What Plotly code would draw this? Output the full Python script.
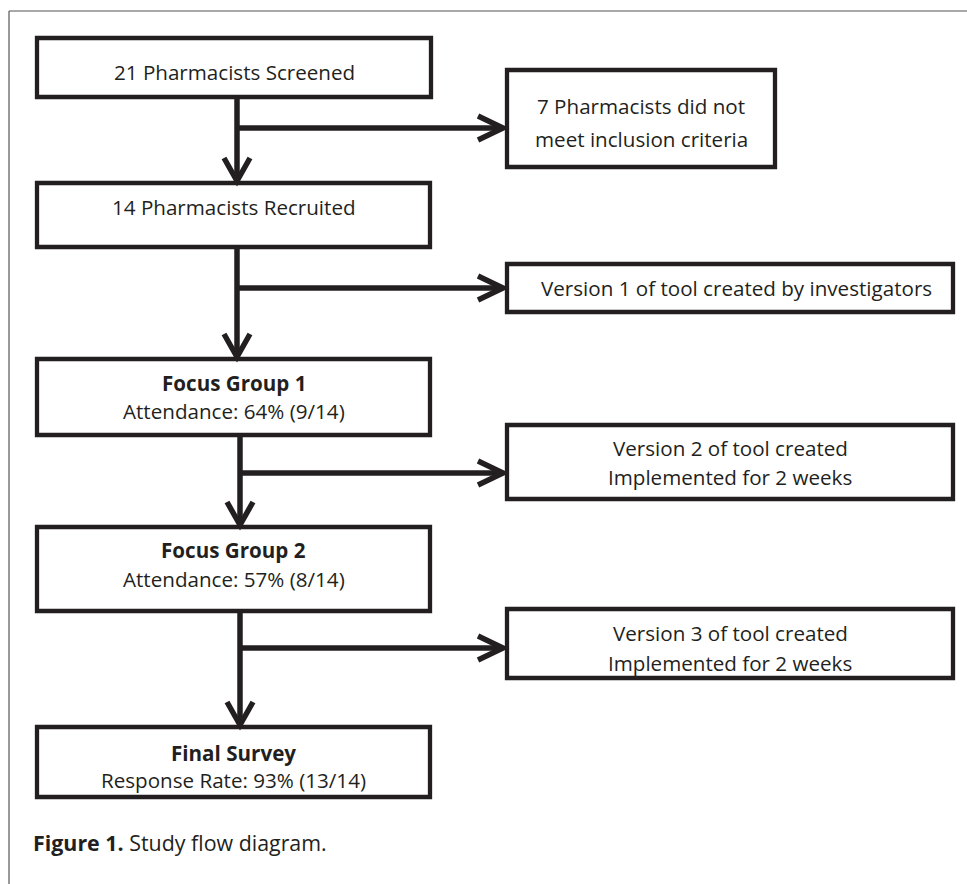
import plotly.graph_objects as go

# ---------------- data (text content) ----------------
main_titles = ["", "", "Focus Group 1", "Focus Group 2", "Final Survey"]
main_texts = [
    "21 Pharmacists Screened",
    "14 Pharmacists Recruited",
    "Attendance: 64% (9/14)",
    "Attendance: 57% (8/14)",
    "Response Rate: 93% (13/14)",
]
side_lines = [
    ["7 Pharmacists did not", "meet inclusion criteria"],
    ["Version 1 of tool created by investigators"],
    ["Version 2 of tool created", "Implemented for 2 weeks"],
    ["Version 3 of tool created", "Implemented for 2 weeks"],
]
caption_bold = "Figure 1."
caption_text = "Study flow diagram."

# ---------------- layout geometry (pixels) ----------------
W, H = 967, 884
INK = "#231f20"
FONT = "Open Sans"
FS = 20.6
CAP_FS = 21.4

main_boxes = [(37, 38, 431, 97), (37, 183, 430, 247), (37, 359, 430, 435),
              (37, 527, 430, 611), (37, 727, 430, 797)]
main_title_y = [None, None, 383, 550, 753]
main_text_y = [72, 207, 411, 579, 780]
side_boxes = [(507, 70, 775, 167), (507, 264, 953, 312),
              (507, 425, 953, 499), (507, 609, 953, 678)]
side_text_y = [[106, 139], [288], [448, 477], [633, 663]]
trunk_x = [237, 237, 240, 240]
branch_y = [128, 288, 473, 648]

fig = go.Figure()
shapes = []
annotations = []

# outer frame
shapes.append(dict(type="line", x0=9, y0=11, x1=W + 5, y1=11,
                   line=dict(color="#555", width=1.2)))
shapes.append(dict(type="line", x0=9, y0=11, x1=9, y1=H + 5,
                   line=dict(color="#555", width=1.2)))

# boxes
for (x0, y0, x1, y1) in main_boxes + side_boxes:
    shapes.append(dict(type="rect", x0=x0, y0=y0, x1=x1, y1=y1,
                       line=dict(color=INK, width=4.3), fillcolor="white",
                       layer="below"))

# connectors
for i in range(4):
    x = trunk_x[i]
    ytop = main_boxes[i][3]
    ybot = main_boxes[i + 1][1]
    shapes.append(dict(type="line", x0=x, y0=ytop + 2, x1=x, y1=ybot - 3,
                       line=dict(color=INK, width=5.5)))
    # down chevron
    shapes.append(dict(type="path",
                       path=f"M {x-13},{ybot-25} L {x},{ybot-2} L {x+13},{ybot-25}",
                       line=dict(color=INK, width=5.5)))
    # branch
    yb = branch_y[i]
    xt = side_boxes[i][0] - 4
    shapes.append(dict(type="line", x0=x, y0=yb, x1=xt - 2, y1=yb,
                       line=dict(color=INK, width=5.5)))
    shapes.append(dict(type="path",
                       path=f"M {xt-25},{yb-12} L {xt},{yb} L {xt-25},{yb+12}",
                       line=dict(color=INK, width=5.5)))

# main box texts
for i, (x0, y0, x1, y1) in enumerate(main_boxes):
    cx = (x0 + x1) / 2
    if main_titles[i]:
        annotations.append(dict(x=cx, y=main_title_y[i], xref="x", yref="y",
                                text=f"<b>{main_titles[i]}</b>", showarrow=False,
                                font=dict(family=FONT, size=FS, color=INK),
                                xanchor="center", yanchor="middle"))
    annotations.append(dict(x=cx, y=main_text_y[i], xref="x", yref="y",
                            text=main_texts[i], showarrow=False,
                            font=dict(family=FONT, size=FS, color=INK),
                            xanchor="center", yanchor="middle"))

# side box texts
for i, (x0, y0, x1, y1) in enumerate(side_boxes):
    cx = (x0 + x1) / 2
    if i == 1:
        cx += 6
    for line, ly in zip(side_lines[i], side_text_y[i]):
        annotations.append(dict(x=cx, y=ly, xref="x", yref="y",
                                text=line, showarrow=False,
                                font=dict(family=FONT, size=FS, color=INK),
                                xanchor="center", yanchor="middle"))

# caption
annotations.append(dict(x=31, y=842, xref="x", yref="y",
                        text=f"<b>{caption_bold}</b> {caption_text}",
                        showarrow=False,
                        font=dict(family=FONT, size=CAP_FS, color=INK),
                        xanchor="left", yanchor="middle"))

fig.update_layout(
    width=W, height=H,
    margin=dict(l=0, r=0, t=0, b=0),
    paper_bgcolor="white", plot_bgcolor="white",
    xaxis=dict(range=[0, W], visible=False, fixedrange=True),
    yaxis=dict(range=[H, 0], visible=False, fixedrange=True),
    shapes=shapes, annotations=annotations, showlegend=False,
)

fig.write_html("out.html",
               post_script="document.body.style.margin='0';document.body.style.overflow='hidden';",
               config={"displayModeBar": False})
